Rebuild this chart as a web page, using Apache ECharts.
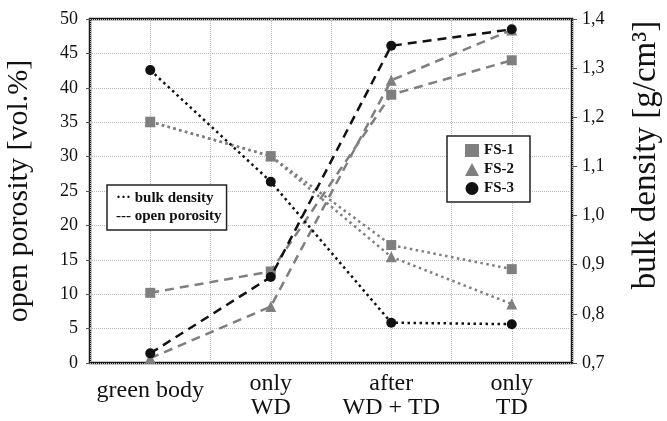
<!DOCTYPE html>
<html>
<head>
<meta charset="utf-8">
<script src="https://cdn.jsdelivr.net/npm/echarts@6/dist/echarts.min.js"></script>
<style>
  html, body { margin: 0; padding: 0; background: #fff; }
  #chart { width: 667px; height: 421px; }
</style>
</head>
<body>
<div id="chart"></div>
<script>
// categories along the x axis
const stages = ['green body', 'only\nWD', 'after\nWD + TD', 'only\nTD'];

// open porosity [vol.%] (dashed lines, left axis)
const porosityFS1 = [10.2, 13.3, 39.0, 44.0];
const porosityFS2 = [0.7, 8.2, 41.1, 48.4];
const porosityFS3 = [1.4, 12.5, 46.1, 48.5];

// bulk density [g/cm3] (dotted lines, right axis)
const densityFS1 = [1.191, 1.121, 0.940, 0.891];
const densityFS2 = [1.191, 1.121, 0.916, 0.820];
const densityFS3 = [1.296, 1.069, 0.782, 0.779];

const GRAY = '#7f7f7f';
const BLACK = '#111';
const FONT = 'Liberation Serif';

const chart = echarts.init(document.getElementById('chart'));

function series(name, data, yIdx, color, symbol, type, z) {
  return {
    name: name,
    type: 'line',
    data: data,
    yAxisIndex: yIdx,
    symbol: symbol,
    symbolSize: symbol === 'triangle' ? 11 : 10,
    z: z,
    itemStyle: { color: color },
    lineStyle: { color: color, width: 2.5, type: type === 'dashed' ? [9, 6] : [2.5, 3.5] },
    emphasis: { disabled: true },
    animation: false
  };
}

const option = {
  animation: false,
  textStyle: { fontFamily: FONT },
  grid: {
    left: 90, right: 95, top: 19, bottom: 58,
    outerBoundsMode: 'none', containLabel: false,
    show: true, borderColor: '#1a1a1a', borderWidth: 2.5, backgroundColor: 'transparent'
  },
  legend: [
    {
      left: 447, top: 136, orient: 'vertical', itemGap: 4,
      itemWidth: 14, itemHeight: 13,
      padding: [7, 16, 6, 18],
      borderColor: '#222', borderWidth: 1.5, backgroundColor: '#fff',
      textStyle: { fontFamily: FONT, fontWeight: 'bold', fontSize: 15, color: '#111' },
      data: [
        { name: 'FS-1', icon: 'rect', itemStyle: { color: GRAY } },
        { name: 'FS-2', icon: 'triangle', itemStyle: { color: GRAY } },
        { name: 'FS-3', icon: 'circle', itemStyle: { color: BLACK } }
      ]
    },
    {
      left: 107, top: 185, orient: 'vertical', itemGap: 3,
      itemWidth: 0, itemHeight: 10,
      padding: [6, 5, 6, 4],
      borderColor: '#222', borderWidth: 1.5, backgroundColor: '#fff',
      textStyle: { fontFamily: FONT, fontWeight: 'bold', fontSize: 15, color: '#111' },
      formatter: name => (name === 'bulk density' ? '··· ' : '--- ') + name,
      data: [
        { name: 'bulk density', icon: 'none' },
        { name: 'open porosity', icon: 'none' }
      ]
    }
  ],
  xAxis: [
    {
      type: 'category',
      data: stages,
      boundaryGap: true,
      axisLine: { show: false },
      axisTick: { show: false },
      splitLine: { show: false },
      axisLabel: {
        interval: 0,
        color: '#111', fontSize: 24, fontFamily: FONT, margin: 9, lineHeight: 24,
        formatter: v => v === 'green body' ? '{c|green body}' : v,
        rich: { c: { fontSize: 24, fontFamily: FONT, color: '#111', lineHeight: 24, padding: [13, 0, 0, 0] } }
      }
    },
    {
      type: 'value', min: 0, max: 8, interval: 1, show: true,
      position: 'bottom',
      axisLine: { show: false }, axisTick: { show: false }, axisLabel: { show: false },
      splitLine: { show: true, lineStyle: { color: '#bdbdbd', type: 'dotted', width: 1 } }
    }
  ],
  yAxis: [
    {
      type: 'value', min: 0, max: 50, interval: 5,
      name: 'open porosity [vol.%]', nameLocation: 'middle', nameGap: 56,
      nameTextStyle: { fontSize: 30, fontFamily: FONT, color: '#111' },
      axisLine: { show: false },
      axisTick: { show: true, length: 4, lineStyle: { color: '#555' } },
      axisLabel: { color: '#111', fontSize: 18, fontFamily: FONT, margin: 12 },
      splitLine: { show: true, lineStyle: { color: '#bdbdbd', type: 'dotted', width: 1 } }
    },
    {
      type: 'value', min: 0.7, max: 1.4, interval: 0.1, position: 'right',
      name: 'bulk density [g/cm³]', nameLocation: 'middle', nameGap: 58, nameRotate: 90,
      nameTextStyle: { fontSize: 33, fontFamily: FONT, color: '#111', padding: [0, 0, 0, 72] },
      axisLine: { show: false },
      axisTick: { show: true, length: 5, lineStyle: { color: '#555' } },
      axisLabel: {
        color: '#111', fontSize: 18, fontFamily: FONT, margin: 10,
        formatter: v => v.toFixed(1).replace('.', ',')
      },
      splitLine: { show: false }
    }
  ],
  series: [
    series('bulk density', [], 1, BLACK, 'none', 'dotted', 1),
    series('open porosity', [], 0, BLACK, 'none', 'dashed', 1),
    series('FS-2', densityFS2, 1, GRAY, 'triangle', 'dotted', 2),
    series('FS-1', densityFS1, 1, GRAY, 'rect', 'dotted', 3),
    series('FS-3', densityFS3, 1, BLACK, 'circle', 'dotted', 4),
    series('FS-1', porosityFS1, 0, GRAY, 'rect', 'dashed', 3),
    series('FS-2', porosityFS2, 0, GRAY, 'triangle', 'dashed', 2),
    series('FS-3', porosityFS3, 0, BLACK, 'circle', 'dashed', 4)
  ]
};

chart.setOption(option);
</script>
</body>
</html>
